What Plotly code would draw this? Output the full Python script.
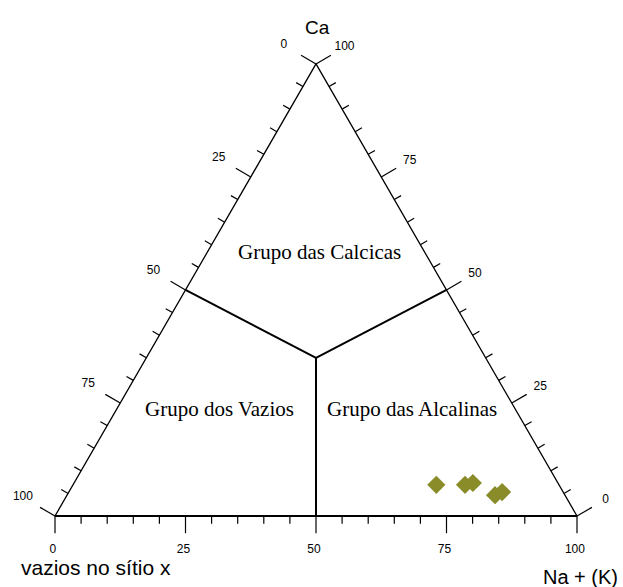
import math
import plotly.graph_objects as go

# ---- data (ternary percentages) ----
sample_ca = [6.9, 6.9, 7.3, 4.6, 5.3]
sample_na = [69.6, 75.1, 76.4, 82.0, 83.0]
sample_vazios = [round(100 - c - n, 1) for c, n in zip(sample_ca, sample_na)]

# field boundaries: junction point and the three edge endpoints (Ca, Na)
junction = (35.0, 32.5)
boundary_ends = [(50.0, 0.0), (50.0, 50.0), (0.0, 50.0)]

tick_values = list(range(0, 101, 5))
major_ticks = [0, 25, 50, 75, 100]

field_names = ["Grupo das Calcicas", "Grupo dos Vazios", "Grupo das Alcalinas"]

S3 = math.sqrt(3) / 2


def to_xy(ca, na):
    return na + ca / 2.0, ca * S3


fig = go.Figure()
BLACK = "#000000"

# ---- triangle frame ----
corners = [(100, 0), (0, 0), (0, 100), (100, 0)]
fx, fy = zip(*[to_xy(c, n) for c, n in corners])
fig.add_trace(go.Scatter(x=fx, y=fy, mode="lines", line=dict(color=BLACK, width=1.3),
                         hoverinfo="skip", showlegend=False))
bx, by = zip(*[to_xy(0, 0), to_xy(0, 100)])
fig.add_trace(go.Scatter(x=bx, y=by, mode="lines", line=dict(color=BLACK, width=2),
                         hoverinfo="skip", showlegend=False))

# ---- ticks ----
MAJ, MIN = 3.3, 1.5
nl = (-S3, 0.5)   # left outward normal
nr = (S3, 0.5)    # right outward normal
nb = (0.0, -1.0)  # bottom outward normal
tx, ty = [], []
for t in tick_values:
    L = MAJ if t in major_ticks else MIN
    # left edge (vazios = t)
    x0, y0 = to_xy(100 - t, 0)
    tx += [x0, x0 + nl[0] * L, None]; ty += [y0, y0 + nl[1] * L, None]
    # right edge (Ca = t)
    x0, y0 = to_xy(t, 100 - t)
    tx += [x0, x0 + nr[0] * L, None]; ty += [y0, y0 + nr[1] * L, None]
    # bottom edge (Na = t)
    x0, y0 = to_xy(0, t)
    tx += [x0, x0 + nb[0] * L, None]; ty += [y0, y0 + nb[1] * L, None]
fig.add_trace(go.Scatter(x=tx, y=ty, mode="lines", line=dict(color=BLACK, width=1.2),
                         hoverinfo="skip", showlegend=False))

# ---- tick labels ----
DL, DR, DB = 7.1, 6.3, 6.5
lx, ly, lt = [], [], []
for t in major_ticks:
    x0, y0 = to_xy(100 - t, 0)
    lx.append(x0 + nl[0] * DL); ly.append(y0 + nl[1] * DL); lt.append(str(t))
    x0, y0 = to_xy(t, 100 - t)
    lx.append(x0 + nr[0] * DR); ly.append(y0 + nr[1] * DR); lt.append(str(t))
    x0, y0 = to_xy(0, t)
    lx.append(x0 - 0.4); ly.append(y0 - DB); lt.append(str(t))
fig.add_trace(go.Scatter(x=lx, y=ly, text=lt, mode="text",
                         textfont=dict(family="Arial, Liberation Sans", size=12, color=BLACK),
                         textposition="middle center", hoverinfo="skip", showlegend=False))

# ---- field boundaries ----
jx, jy = to_xy(*junction)
bxs, bys = [], []
for c, n in boundary_ends:
    ex, ey = to_xy(c, n)
    bxs += [ex, jx, None]; bys += [ey, jy, None]
fig.add_trace(go.Scatter(x=bxs, y=bys, mode="lines", line=dict(color=BLACK, width=2),
                         hoverinfo="skip", showlegend=False))

# ---- samples ----
px_, py_ = zip(*[to_xy(c, n) for c, n in zip(sample_ca, sample_na)])
fig.add_trace(go.Scatter(x=px_, y=py_, mode="markers",
                         marker=dict(symbol="diamond", size=14, color="#8a8c2a",
                                     line=dict(width=0)),
                         customdata=sample_vazios, showlegend=False))

# ---- texts ----
ann = []
sans = dict(family="Arial, Liberation Sans", color=BLACK)
serif = dict(family="Times New Roman, Liberation Serif", size=21, color=BLACK)
ann.append(dict(x=50.2, y=93.6, text="Ca", font=dict(size=19, **sans)))
ann.append(dict(x=7.8, y=-9.8, text="vazios no sítio x", font=dict(size=21, **sans)))
ann.append(dict(x=100.7, y=-11.6, text="Na + (K)", font=dict(size=20, **sans)))
ann.append(dict(x=50.6, y=50.6, text=field_names[0], font=serif))
ann.append(dict(x=31.42, y=20.5, text=field_names[1], font=serif))
ann.append(dict(x=68.3, y=20.5, text=field_names[2], font=serif))
for a in ann:
    a.update(xref="x", yref="y", showarrow=False, xanchor="center", yanchor="middle")

fig.update_layout(
    width=623, height=587,
    margin=dict(l=0, r=0, t=0, b=0),
    paper_bgcolor="white", plot_bgcolor="white",
    xaxis=dict(range=[-10.536, 108.812], visible=False, fixedrange=True),
    yaxis=dict(range=[-13.602, 98.851], visible=False, fixedrange=True),
    annotations=ann,
    showlegend=False,
)

fig.write_html("out.html", config={"displayModeBar": False},
               post_script="document.body.style.margin='0';document.body.style.overflow='hidden';")
